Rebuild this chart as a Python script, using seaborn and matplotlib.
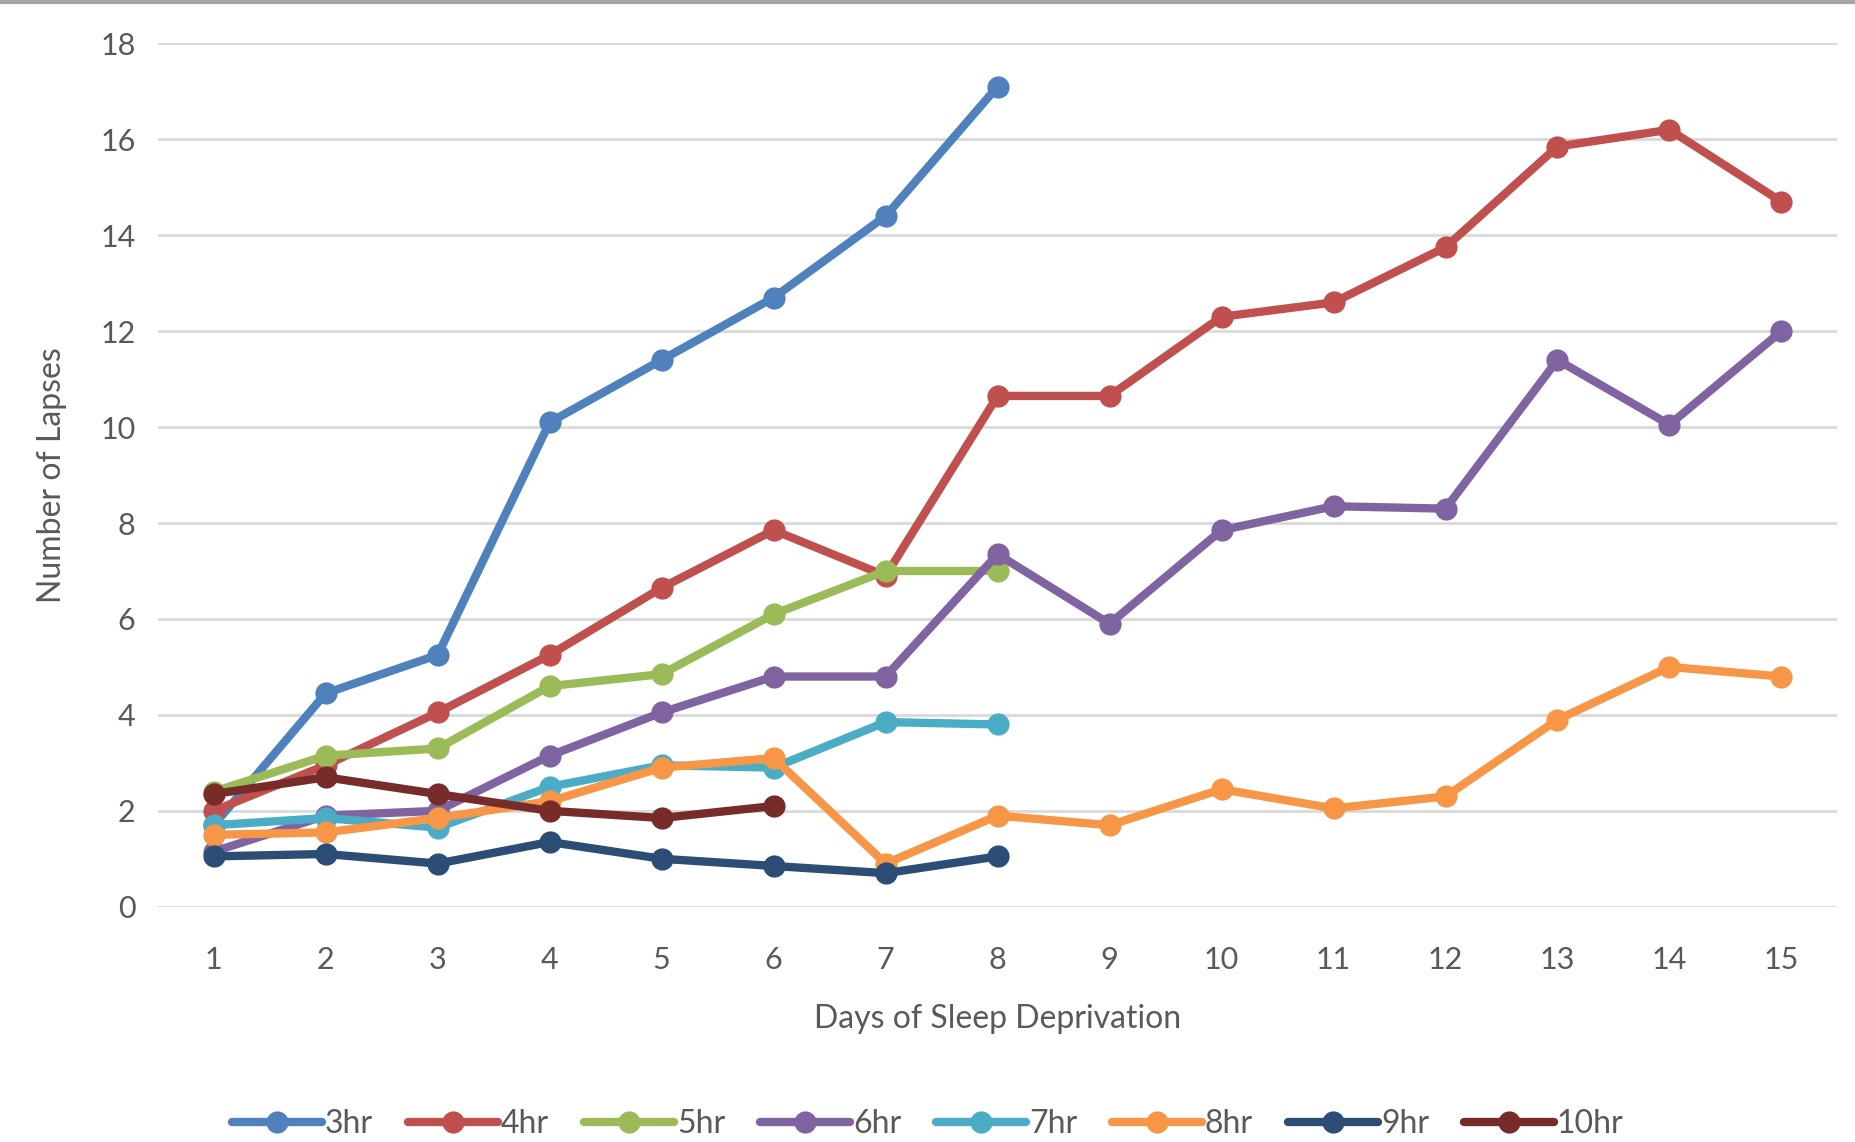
import numpy as np
import pandas as pd
import seaborn as sns
import matplotlib.pyplot as plt
from matplotlib.lines import Line2D

# values, one list per sleep condition (days 1..n)
days = list(range(1, 16))
hr3 = [1.7, 4.45, 5.25, 10.1, 11.4, 12.7, 14.4, 17.1]
hr4 = [2.0, 2.95, 4.05, 5.25, 6.65, 7.85, 6.9, 10.65, 10.65, 12.3, 12.6, 13.75, 15.85, 16.2, 14.7]
hr5 = [2.4, 3.15, 3.3, 4.6, 4.85, 6.1, 7.0, 7.0]
hr6 = [1.15, 1.9, 2.0, 3.15, 4.05, 4.8, 4.8, 7.35, 5.9, 7.85, 8.35, 8.3, 11.4, 10.05, 12.0]
hr7 = [1.7, 1.85, 1.65, 2.5, 2.95, 2.9, 3.85, 3.8]
hr8 = [1.5, 1.55, 1.85, 2.2, 2.9, 3.1, 0.9, 1.9, 1.7, 2.45, 2.05, 2.3, 3.9, 5.0, 4.8]
hr9 = [1.05, 1.1, 0.9, 1.35, 1.0, 0.85, 0.7, 1.05]
hr10 = [2.35, 2.7, 2.35, 2.0, 1.85, 2.1]

labels = ['3hr', '4hr', '5hr', '6hr', '7hr', '8hr', '9hr', '10hr']
series = [hr3, hr4, hr5, hr6, hr7, hr8, hr9, hr10]
colors = ['#4F81BD', '#C0504D', '#9BBB59', '#8064A2', '#4BACC6', '#F79646', '#2C4D75', '#772C2A']

rows = []
for lab, vals in zip(labels, series):
    for d, v in zip(days, vals):
        rows.append({'day': d, 'lapses': v, 'sleep': lab})
df = pd.DataFrame(rows)

sns.set_style('white')
plt.rcParams['font.family'] = ['Lato', 'DejaVu Sans']

fig = plt.figure(figsize=(18.56, 11.42), dpi=100)
ax = fig.add_axes([0.085, 0.206, 0.905, 0.756])

pal = dict(zip(labels, colors))
sns.lineplot(data=df, x='day', y='lapses', hue='sleep', hue_order=labels,
             palette=pal, marker='o', markersize=16, linewidth=6,
             markeredgewidth=0, ax=ax, legend=False, zorder=3)

ax.set_xlim(0.5, 15.5)
ax.set_ylim(0, 18)
ax.set_xticks(days)
ax.set_yticks(range(0, 19, 2))
ax.grid(axis='y', color='#D9D9D9', linewidth=2)
ax.set_axisbelow(True)
for s in ax.spines.values():
    s.set_visible(False)
ax.tick_params(axis='y', length=0, labelsize=22, labelcolor='#595959', pad=16)
ax.tick_params(axis='x', length=0, labelsize=22, labelcolor='#595959', pad=28)
ax.set_xlabel('Days of Sleep Deprivation', fontsize=23, color='#595959', labelpad=22)
ax.set_ylabel('Number of Lapses', fontsize=23, color='#595959', labelpad=24)

handles = [Line2D([0], [0], color=c, linewidth=6, marker='o', markersize=16,
                  markeredgewidth=0) for c in colors]
fig.legend(handles, labels, loc='center', bbox_to_anchor=(0.5, 0.016), ncol=8,
           frameon=False, fontsize=23, handlelength=2.8, handletextpad=0.1,
           columnspacing=1.1, labelcolor='#595959')

# thin border at the top of the picture
fig.add_artist(Line2D([0, 1], [0.998, 0.998], color='#A6A6A6', linewidth=3,
                      transform=fig.transFigure))

fig.savefig('out.png', dpi=100)
